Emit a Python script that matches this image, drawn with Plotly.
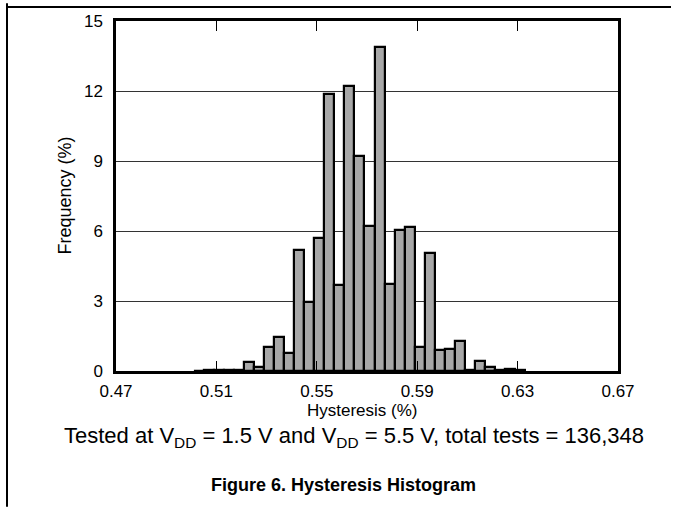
import plotly.graph_objects as go

# Histogram data (bin centers in %, frequency in %)
bin_centers = [0.503, 0.507, 0.511, 0.515, 0.519,
               0.523, 0.527, 0.531, 0.535, 0.539, 0.543, 0.547, 0.551, 0.555,
               0.559, 0.563, 0.567, 0.571, 0.575, 0.579, 0.583, 0.587, 0.591,
               0.595, 0.599, 0.603, 0.607, 0.611, 0.615, 0.619, 0.623, 0.627,
               0.631]
frequency = [0.02, 0.03, 0.04, 0.05, 0.05,
             0.38, 0.17, 1.03, 1.46, 0.79, 5.17, 2.97, 5.68, 11.87,
             3.68, 12.23, 9.22, 6.23, 13.88, 3.73, 6.03, 6.18, 1.03,
             5.07, 0.89, 0.93, 1.27, 0.04, 0.42, 0.18, 0.03, 0.08,
             0.03]
bin_width = 0.004

x_ticks = [0.47, 0.51, 0.55, 0.59, 0.63, 0.67]
x_tick_labels = ["0.47", "0.51", "0.55", "0.59", "0.63", "0.67"]
y_ticks = [0, 3, 6, 9, 12, 15]
y_tick_labels = ["0", "3", "6", "9", "12", "15"]

FONT = "Liberation Sans, Arial, sans-serif"

fig = go.Figure()
fig.add_trace(go.Bar(
    x=bin_centers, y=frequency, width=bin_width,
    marker=dict(color="#A8A8A8", line=dict(color="black", width=2.2)),
    showlegend=False,
))

L, R, T, B = 116, 55, 18, 137
W, H = 673, 508
pw = W - L - R
ph = H - T - B

fig.update_layout(
    width=W, height=H,
    margin=dict(l=L, r=R, t=T, b=B, pad=0),
    paper_bgcolor="white", plot_bgcolor="white",
    bargap=0,
    font=dict(family=FONT, color="black", size=17),
)
fig.update_xaxes(
    range=[0.47, 0.67], tickmode="array", tickvals=x_ticks, ticktext=x_tick_labels,
    ticks="inside", ticklen=10, tickwidth=1, tickcolor="black",
    showline=True, linecolor="black", linewidth=2.5, mirror="ticks",
    showgrid=False, zeroline=False,
    tickfont=dict(size=17, family=FONT, color="black"),
    ticklabelstandoff=3,
)
fig.update_yaxes(
    range=[0, 15], tickmode="array", tickvals=y_ticks, ticktext=y_tick_labels,
    ticks="", showline=True, linecolor="black", linewidth=2.5, mirror=True,
    showgrid=True, gridcolor="#333333", gridwidth=1, zeroline=False,
    tickfont=dict(size=17, family=FONT, color="black"),
    ticklabelstandoff=7,
)

def px_x(px):
    return (px - L) / pw

def px_y(py):
    return (H - B - py) / ph

annotations = [
    dict(text="Hysteresis (%)", x=px_x(362), y=px_y(411), font=dict(size=17)),
    dict(text="Frequency (%)", x=px_x(65), y=px_y(194), textangle=-90, font=dict(size=18)),
    dict(text="Tested at V<sub>DD</sub> = 1.5 V and V<sub>DD</sub> = 5.5 V, total tests = 136,348",
         x=px_x(354), y=px_y(438), font=dict(size=22)),
    dict(text="<b>Figure 6. Hysteresis Histogram</b>", x=px_x(343), y=px_y(486), font=dict(size=18)),
]
for a in annotations:
    a.update(xref="paper", yref="paper", showarrow=False, xanchor="center", yanchor="middle")
    a["font"].update(family=FONT, color="black")
fig.update_layout(annotations=annotations)

# page frame lines (top rule and left rule)
fig.add_shape(type="line", xref="paper", yref="paper",
              x0=px_x(6), x1=px_x(671), y0=px_y(4), y1=px_y(4),
              line=dict(color="black", width=2))
fig.add_shape(type="line", xref="paper", yref="paper",
              x0=px_x(7), x1=px_x(7), y0=px_y(0), y1=px_y(508),
              line=dict(color="black", width=2))

fig.write_html("out.html", config={"displayModeBar": False},
               post_script="document.body.style.margin='0';document.body.style.padding='0';")
